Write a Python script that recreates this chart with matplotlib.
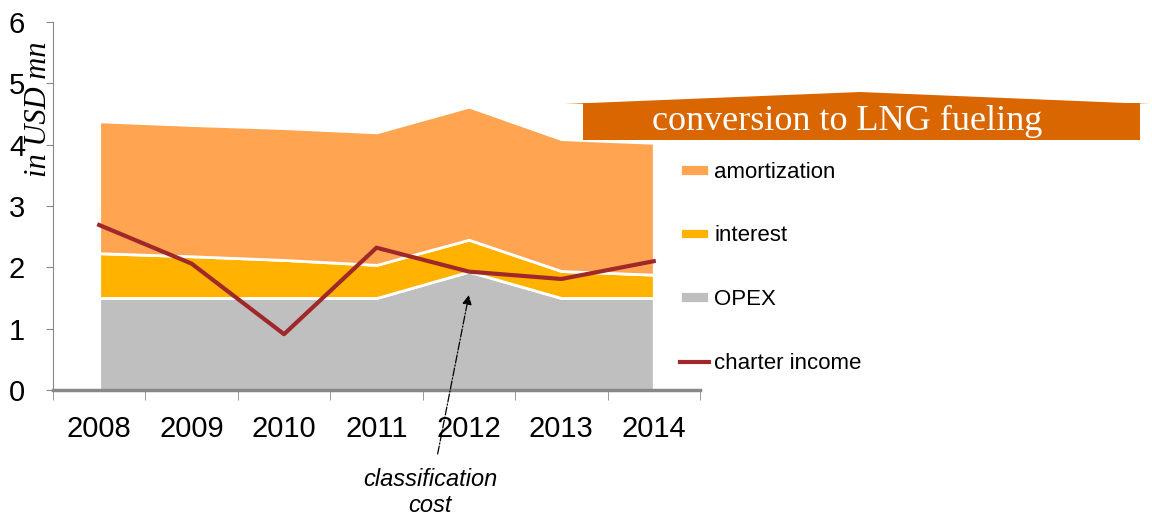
import numpy as np
import matplotlib.pyplot as plt
from matplotlib.patches import Polygon

years = ['2008', '2009', '2010', '2011', '2012', '2013', '2014']
opex = [1.50, 1.50, 1.50, 1.50, 1.93, 1.50, 1.50]
interest = [0.73, 0.68, 0.62, 0.54, 0.52, 0.44, 0.38]
amortization = [2.15, 2.14, 2.15, 2.16, 2.17, 2.15, 2.15]
charter_income = [2.69, 2.06, 0.91, 2.32, 1.93, 1.81, 2.10]

plt.rcParams['font.family'] = ['Liberation Sans', 'DejaVu Sans']

fig = plt.figure(figsize=(11.52, 5.2), dpi=100)
ax = fig.add_axes([0.046, 0.25, 0.5616, 0.7077])

x = np.arange(len(years))
polys = ax.stackplot(x, opex, interest, amortization,
                     colors=['#BFBFBF', '#FFB300', '#FFA450'],
                     edgecolor='white', linewidth=2,
                     labels=['OPEX', 'interest', 'amortization'])
line, = ax.plot(x, charter_income, color='#A0282A', lw=3, label='charter income')

ax.set_xlim(-0.5, 6.5)
ax.set_ylim(0, 6)
ax.set_yticks(range(7))
ax.tick_params(axis='y', labelsize=21, length=5, color='#888888', pad=15)
ax.set_xticks(x)
ax.set_xticklabels(years)
ax.set_xticks(np.arange(-0.5, 7, 1), minor=True)
ax.tick_params(axis='x', which='major', length=0, labelsize=21, pad=18)
ax.tick_params(axis='x', which='minor', length=7, color='#888888')
for s in ['top', 'right']:
    ax.spines[s].set_visible(False)
ax.spines['left'].set_color('#888888')
ax.spines['bottom'].set_color('#888888')
ax.spines['bottom'].set_linewidth(2.5)

fig.text(0.033, 0.79, 'in USD mn', rotation=90, ha='center', va='center',
         fontsize=22, style='italic', family='Liberation Serif')

ax.legend([polys[2], polys[1], polys[0], line],
          ['amortization', 'interest', 'OPEX', 'charter income'],
          loc='upper left', bbox_to_anchor=(0.5825, 0.706),
          bbox_transform=fig.transFigure, frameon=False, fontsize=16,
          handlelength=1.3, handleheight=0.45, handletextpad=0.25,
          labelspacing=1.92, borderaxespad=0)

# banner
roof = Polygon([[565 / 1152, 1 - 104 / 520], [860 / 1152, 1 - 92 / 520],
                [1150 / 1152, 1 - 104 / 520]], closed=True,
               transform=fig.transFigure, color='#D96600', lw=0)
fig.patches.append(roof)
box = plt.Rectangle((583 / 1152, 1 - 140 / 520), 557 / 1152, 37 / 520,
                    transform=fig.transFigure, color='#D96600', lw=0)
fig.patches.append(box)
fig.text(847 / 1152, 1 - 121 / 520, 'conversion to LNG fueling', color='white',
         ha='center', va='center', fontsize=26, family='Liberation Serif')

ax.annotate('classification\ncost', xy=(4.0, 1.55), xytext=(3.58, -1.67),
            ha='center', va='center', fontsize=17, style='italic',
            linespacing=1.2, annotation_clip=False,
            arrowprops=dict(arrowstyle='-|>', ls='-.', lw=0.9, color='black',
                            shrinkA=8, shrinkB=0, mutation_scale=14))

fig.savefig('out.png', dpi=100)
